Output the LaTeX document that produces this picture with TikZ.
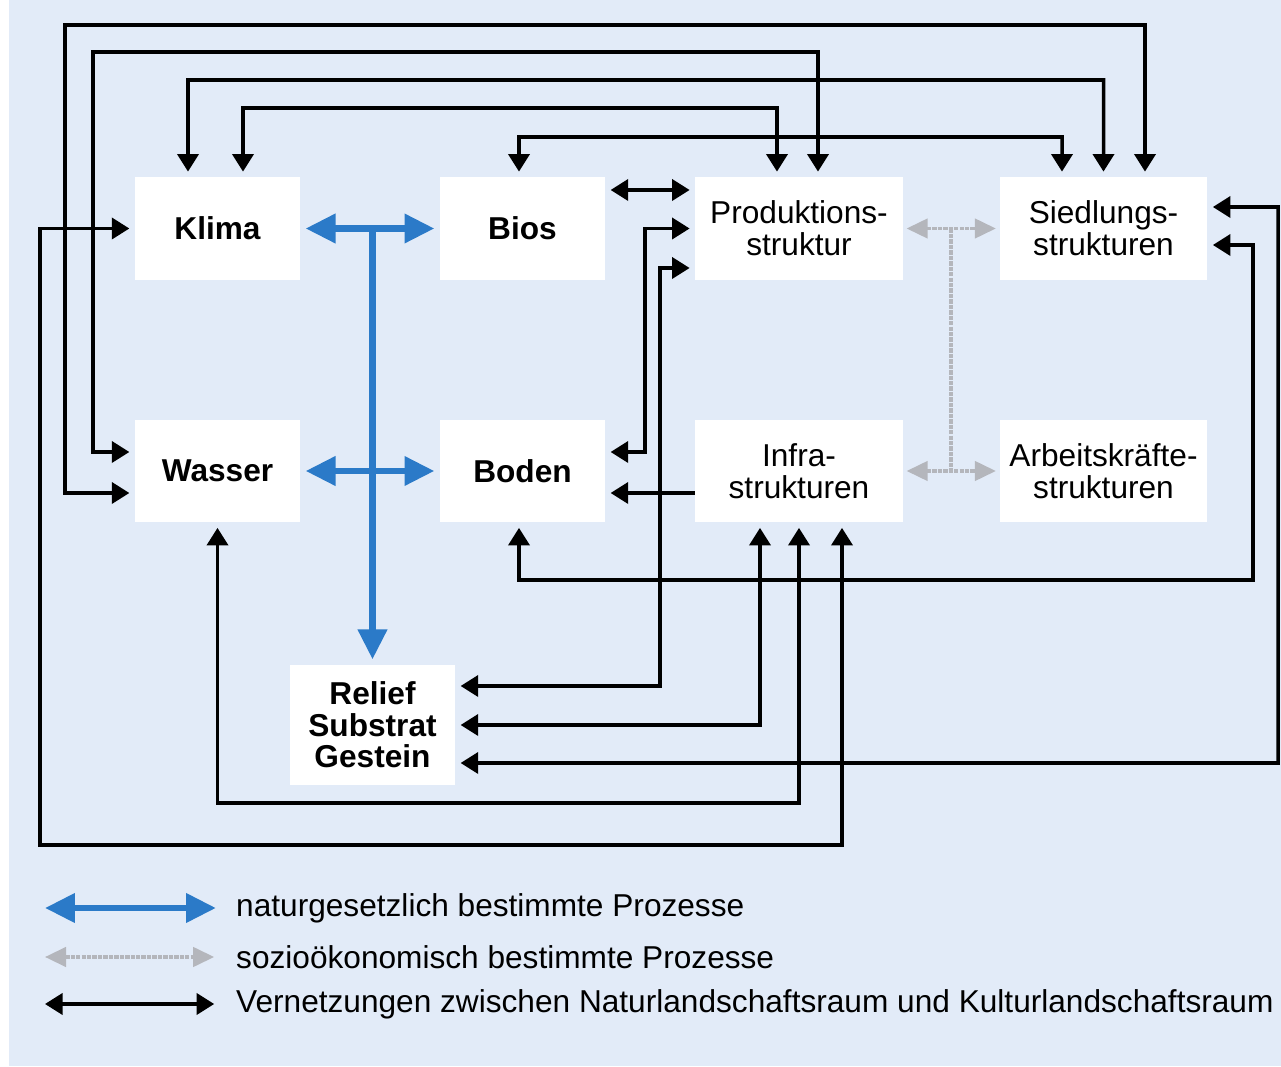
\documentclass[tikz,border=0pt]{standalone}
\usepackage{fontspec}
\setmainfont{Liberation Sans}
\usetikzlibrary{arrows.meta,calc}
\definecolor{bgblue}{RGB}{226,235,248}
\definecolor{natblue}{RGB}{43,122,200}
\definecolor{sozgray}{RGB}{180,182,188}
\begin{document}
\begin{tikzpicture}[>={Triangle[length=10pt,width=12pt]},font=\fontsize{18}{18}\selectfont]
\tikzstyle{b}=[fill=white,align=center,inner sep=0pt,minimum width=3.3cm,minimum height=2.05cm]
\tikzstyle{nb}=[b,font=\fontsize{18}{18}\selectfont\bfseries]
\tikzstyle{bw}=[b,minimum width=4.15cm]
\tikzstyle{k}=[line width=2pt,<->,shorten <=3pt,shorten >=3pt]
\tikzstyle{n}=[line width=3.7pt,natblue,{Triangle[length=17pt,width=16pt]}-{Triangle[length=17pt,width=16pt]},shorten <=3pt,shorten >=3pt]
\tikzstyle{s}=[line width=2pt,sozgray,dash pattern=on 2.5pt off 0.6pt,{Triangle[length=12pt,width=11pt]}-{Triangle[length=12pt,width=11pt]},shorten <=2pt,shorten >=2pt]
\useasboundingbox (0,0) rectangle (25.62,21.32);
\fill[white] (0,0) rectangle (25.62,21.32); \fill[bgblue] (0.18,0) rectangle (25.62,21.32);
% boxes
\node[nb] (klima) at (4.35,16.75) {Klima}; \node[nb] (bios) at (10.45,16.75) {Bios};
\node[bw] (prod) at (15.98,16.75) {Produktions-\\struktur}; \node[bw] (sied) at (22.07,16.75) {Siedlungs-\\strukturen};
\node[nb] (wasser) at (4.35,11.9) {Wasser}; \node[nb] (boden) at (10.45,11.9) {Boden};
\node[bw] (infra) at (15.98,11.9) {Infra-\\strukturen}; \node[bw] (arbeit) at (22.07,11.9) {Arbeitskräfte-\\strukturen};
\node[nb,minimum height=2.4cm] (relief) at (7.45,6.82) {Relief\\Substrat\\Gestein};
% corners of the wires
\coordinate (c1) at (1.3,20.82); \coordinate (c2) at (1.86,20.28); \coordinate (c3) at (3.76,19.72);
\coordinate (c4) at (4.86,19.16); \coordinate (c5) at (10.38,18.58); \coordinate (c6) at (0.8,4.42);
\coordinate (c7) at (4.35,5.26); \coordinate (c8) at (13.2,7.6); \coordinate (c9) at (12.9,12.28);
\coordinate (c10) at (25.06,9.72); \coordinate (c11) at (25.56,6.06);
% black wires
\draw[k] ([yshift=-0.44cm]wasser.west) -| (c1) -| ([xshift=0.83cm]sied.north);
\draw[k] ([yshift=0.38cm]wasser.west) -| (c2) -| ([xshift=0.38cm]prod.north);
\draw[k] ([xshift=-0.59cm]klima.north) -- (c3) -| (sied.north);
\draw[k] ([xshift=0.51cm]klima.north) -- (c4) -| ([xshift=-0.44cm]prod.north);
\draw[k] ([xshift=-0.07cm]bios.north) -- (c5) -| ([xshift=-0.83cm]sied.north);
\draw[k] (klima.west) -| (c6) -| ([xshift=0.86cm]infra.south);
\draw[k] (wasser.south) -- (c7) -| (infra.south);
\draw[k] (relief.east) -| ([xshift=-0.78cm]infra.south);
\draw[k] ([yshift=0.78cm]relief.east) -- (c8) |- ([yshift=-0.79cm]prod.west);
\draw[k] ([yshift=0.38cm]boden.east) -- (c9) |- (prod.west);
\draw[k] ([yshift=0.77cm]bios.east) -- ([yshift=0.77cm]prod.west);
\draw[k,->,shorten <=0pt] ([yshift=-0.44cm]infra.west) -- ([yshift=-0.44cm]boden.east);
\draw[k] ([xshift=-0.07cm]boden.south) |- (c10) |- ([yshift=-0.33cm]sied.east);
\draw[k] ([yshift=-0.76cm]relief.east) -- (c11) |- ([yshift=0.43cm]sied.east);
% natural processes
\draw[n] (klima) -- (bios); \draw[n] (wasser) -- (boden);
\draw[line width=3.7pt,natblue,-{Triangle[length=17pt,width=16pt]},shorten >=3pt] (relief.north |- klima) -- (relief.north);
% socio-economic processes
\draw[s] (prod) -- (sied); \draw[s] (infra) -- (arbeit);
\draw[line width=2pt,sozgray,dash pattern=on 2.5pt off 0.6pt] ($(prod.east)!0.5!(sied.west)$) -- ($(infra.east)!0.5!(arbeit.west)$);
% legend
\coordinate (g1) at (0.9,3.16); \coordinate (g2) at (0.9,2.18); \coordinate (g3) at (0.9,1.24);
\node[anchor=west] (t1) at (4.6,3.16) {naturgesetzlich bestimmte Prozesse};
\node[anchor=west] (t2) at (4.6,2.18) {sozioökonomisch bestimmte Prozesse};
\node[anchor=west] (t3) at (4.6,1.24) {Vernetzungen zwischen Naturlandschaftsraum und Kulturlandschaftsraum};
\draw[n,shorten >=8pt,shorten <=0pt] (g1) -- (t1.west);
\draw[s,shorten >=9pt,shorten <=0pt] (g2) -- (t2.west);
\draw[k,shorten >=9pt,shorten <=0pt] (g3) -- (t3.west);
\end{tikzpicture}
\end{document}
